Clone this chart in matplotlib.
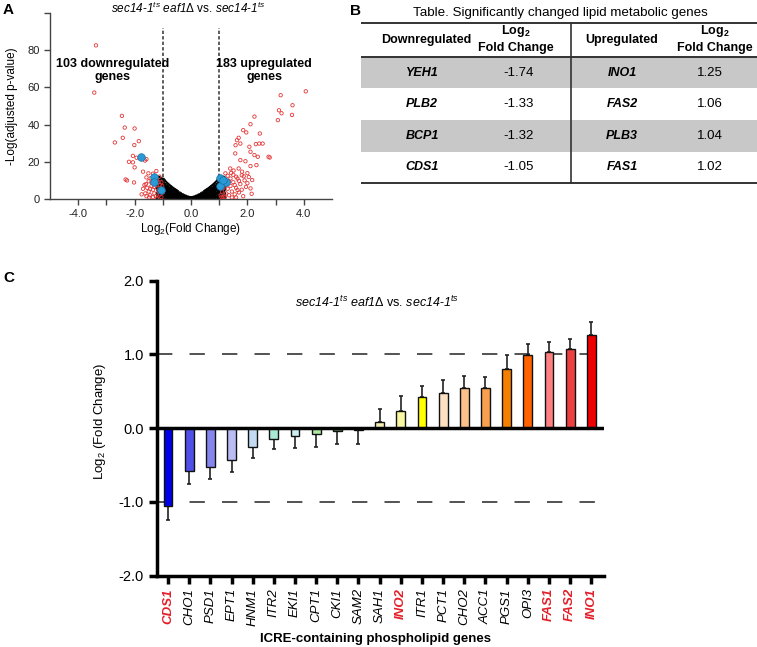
import matplotlib.pyplot as plt

plt.rcParams['font.family'] = ['Liberation Sans', 'DejaVu Sans']
plt.rcParams['mathtext.fontset'] = 'custom'
plt.rcParams['mathtext.rm'] = 'Liberation Sans'
plt.rcParams['mathtext.it'] = 'Liberation Sans:italic'
plt.rcParams['mathtext.sf'] = 'Liberation Sans:italic'
plt.rcParams['mathtext.bf'] = 'Liberation Sans:bold'

# ---- panel A: volcano plot ----
black_x = [-1.15, -1.1, -1.05, -1.0, -0.95, -0.9, -0.85, -0.8, -0.75, -0.7, -0.65, -0.6, -0.55, -0.5,
           -0.4, -0.3, -0.2, -0.1, 0.0, 0.1, 0.2, 0.3, 0.4,
           0.5, 0.55, 0.6, 0.65, 0.7, 0.75, 0.8, 0.85, 0.9, 0.95, 1.0, 1.05, 1.1, 1.15]
black_b0 = [0.6, 0.5, 0.5, 0.4, 0.4, 0.3, 0.3, 0.3, 0.2, 0.2, 0.2, 0.2, 0.1, 0.1,
            0.1, 0.05, 0, 0, 0, 0, 0, 0.05, 0.1,
            0.1, 0.1, 0.2, 0.2, 0.2, 0.2, 0.3, 0.3, 0.3, 0.4, 0.4, 0.5, 0.5, 0.6]
black_b1 = [2.8, 2.6, 2.5, 2.5, 2.2, 2.0, 1.9, 1.7, 1.5, 1.4, 1.2, 1.1, 1.0, 0.9,
            0.6, 0.4, 0.2, 0.05, 0, 0.05, 0.2, 0.4, 0.6,
            0.9, 1.0, 1.1, 1.2, 1.4, 1.5, 1.7, 1.9, 2.0, 2.2, 2.5, 2.5, 2.6, 2.8]
black_b2 = [5.5, 5.2, 5.0, 5.0, 4.5, 4.1, 3.7, 3.4, 3.1, 2.8, 2.5, 2.2, 2.0, 1.7,
            1.2, 0.8, 0.45, 0.15, 0, 0.15, 0.45, 0.8, 1.2,
            1.7, 2.0, 2.2, 2.5, 2.8, 3.1, 3.4, 3.7, 4.1, 4.5, 5.0, 5.0, 5.2, 5.5]
black_b3 = [8.0, 8.0, 7.5, 7.5, 6.8, 6.2, 5.6, 5.1, 4.6, 4.2, 3.8, 3.4, 3.0, 2.6,
            1.9, 1.2, 0.7, 0.2, 0, 0.2, 0.7, 1.2, 1.9,
            2.6, 3.0, 3.4, 3.8, 4.2, 4.6, 5.1, 5.6, 6.2, 6.8, 7.5, 7.5, 8.0, 8.0]
black_top = [11.0, 10.5, 10.0, 10.0, 9.0, 8.2, 7.5, 6.8, 6.2, 5.6, 5.0, 4.5, 4.0, 3.5,
             2.5, 1.6, 0.9, 0.3, 0, 0.3, 0.9, 1.6, 2.5,
             3.5, 4.0, 4.5, 5.0, 5.6, 6.2, 6.8, 7.5, 8.2, 9.0, 10.0, 10.0, 10.5, 11.0]

red_down_x = [-3.37, -3.43, -2.45, -2.35, -2.0, -2.42, -2.7, -1.85, -2.01, -2.06, -1.93, -2.2,
              -2.06, -2.0, -1.58, -1.63, -2.32, -2.27, -2.02, -1.7, -1.51, -1.23, -1.35, -1.58,
              -1.43, -1.6, -1.55, -1.5, -1.45, -1.4, -1.35, -1.3, -1.25, -1.2, -1.15, -1.1,
              -1.05, -1.5, -1.4, -1.3, -1.2, -1.1, -1.25, -1.15, -1.62, -1.7, -1.75, -1.48,
              -1.35, -1.2, -1.08, -1.12, -1.05, -1.58, -1.3, -1.45, -1.65, -1.0, -1.02]
red_down_y = [82.6, 57.2, 44.7, 38.4, 37.9, 32.9, 30.4, 31.1, 29.0, 23.2, 22.2, 20.0,
              19.7, 17.0, 21.4, 20.7, 10.5, 10.0, 8.9, 14.7, 13.8, 15.0, 13.6, 11.6,
              11.2, 8.0, 6.0, 4.0, 2.0, 7.0, 5.0, 3.0, 1.5, 6.0, 4.0, 2.5,
              1.0, 9.5, 9.0, 8.5, 10.0, 7.5, 11.0, 9.0, 3.0, 5.5, 2.5, 0.8,
              1.0, 0.5, 5.0, 12.0, 9.0, 1.5, 6.5, 5.5, 7.5, 3.5, 7.0]
red_up_x = [4.07, 3.18, 3.21, 3.08, 3.58, 3.6, 2.25, 2.11, 1.85, 1.96, 2.44, 1.69, 1.63,
            1.75, 1.58, 2.07, 2.3, 2.42, 2.54, 2.11, 2.25, 2.37, 2.75, 1.57, 1.75, 1.93,
            2.11, 2.32, 1.39, 1.51, 1.69, 1.81, 2.0, 1.87, 2.17, 2.11, 2.79, 3.12,
            1.05, 1.1, 1.15, 1.2, 1.25, 1.3, 1.35, 1.4, 1.45, 1.5, 1.55, 1.6, 1.65, 1.7,
            1.75, 1.8, 1.85, 1.9, 1.1, 1.2, 1.3, 1.4, 1.5, 1.6, 1.15, 1.35, 1.45, 1.25,
            1.55, 1.7, 1.95, 2.0, 1.8, 1.03, 1.08, 1.6, 1.42, 1.65, 1.22, 2.05, 2.15, 1.12]
red_up_y = [57.9, 55.8, 46.1, 42.4, 45.2, 50.4, 44.3, 40.2, 37.0, 35.8, 35.2, 32.9, 31.6,
            29.8, 28.9, 28.1, 29.5, 29.8, 29.8, 25.4, 23.6, 22.7, 22.7, 24.5, 20.9, 20.3,
            17.7, 18.2, 16.4, 15.3, 16.4, 14.7, 13.9, 12.2, 10.2, 5.7, 22.3, 47.7,
            2.0, 4.0, 6.0, 1.0, 3.0, 5.5, 2.0, 7.0, 4.0, 9.0, 2.5, 6.0, 11.0, 3.5,
            8.0, 5.0, 1.5, 10.0, 8.5, 10.5, 12.5, 11.0, 13.0, 12.0, 1.0, 9.5, 0.8, 7.5,
            7.5, 9.8, 6.5, 8.5, 12.8, 6.0, 1.0, 0.8, 14.0, 4.8, 13.8, 11.8, 2.8, 11.0]

lipid_x = [-1.76, -1.31, -1.31, -1.07, 1.25, 1.04, 1.04, 1.12]
lipid_y = [22.7, 12.0, 8.9, 4.8, 9.3, 11.1, 7.0, 10.0]

# ---- panel B: table ----
down_genes = ['YEH1', 'PLB2', 'BCP1', 'CDS1']
down_fc = ['-1.74', '-1.33', '-1.32', '-1.05']
up_genes = ['INO1', 'FAS2', 'PLB3', 'FAS1']
up_fc = ['1.25', '1.06', '1.04', '1.02']

# ---- panel C: bar chart ----
genes = ['CDS1', 'CHO1', 'PSD1', 'EPT1', 'HNM1', 'ITR2', 'EKI1', 'CPT1', 'CKI1', 'SAM2',
         'SAH1', 'INO2', 'ITR1', 'PCT1', 'CHO2', 'ACC1', 'PGS1', 'OPI3', 'FAS1', 'FAS2', 'INO1']
fold = [-1.05, -0.58, -0.52, -0.43, -0.26, -0.145, -0.10, -0.08, -0.04, -0.02,
        0.085, 0.24, 0.42, 0.48, 0.55, 0.55, 0.80, 0.99, 1.03, 1.07, 1.26]
err = [0.20, 0.17, 0.17, 0.17, 0.15, 0.14, 0.17, 0.17, 0.17, 0.20,
       0.18, 0.20, 0.15, 0.17, 0.16, 0.15, 0.19, 0.15, 0.14, 0.14, 0.18]
colors = ['#0000e6', '#5050e8', '#8585ee', '#bcbcf5', '#c4daf2', '#a8e8d6', '#cceef2',
          '#aee8a4', '#5f8a5f', '#888888', '#f4f0b4', '#f8f8a2', '#ffff00', '#fde0c2',
          '#fcc08a', '#f8a04e', '#f58000', '#ff6400', '#ff8080', '#ec4040', '#ee0000']
highlight = ['CDS1', 'INO2', 'FAS1', 'FAS2', 'INO1']

W, H = 757, 647
fig = plt.figure(figsize=(W / 100, H / 100), dpi=100)


def box(l, t, r, b):
    return [l / W, 1 - b / H, (r - l) / W, (b - t) / H]


def fxy(x, y):
    return x / W, 1 - y / H


strain = r"$\mathsf{sec14}$-$\mathsf{1^{ts}}$ $\mathsf{eaf1}$Δ vs. $\mathsf{sec14}$-$\mathsf{1^{ts}}$"

# ================= A =================
axA = fig.add_axes(box(50, 13, 332, 199))
for yy in (black_b0, black_b1, black_b2, black_b3, black_top):
    axA.scatter(black_x, yy, s=10, facecolors='none', edgecolors='black', linewidths=0.9, zorder=2)
axA.scatter(red_down_x + red_up_x, red_down_y + red_up_y, s=6, facecolors='none',
            edgecolors='#e53535', linewidths=0.6, zorder=3)
axA.scatter(lipid_x, lipid_y, s=30, color='#2a9ad6', edgecolors='#1a6fa0', linewidths=0.5, zorder=4)
for xv in (-1, 1):
    axA.plot([xv, xv], [0, 92], color='#333333', lw=1.1, ls=(0, (2.2, 1.4)), zorder=1)
axA.set_xlim(-5, 5)
axA.set_ylim(0, 100)
axA.set_xticks([-4, -2, 0, 2, 4])
axA.set_xticklabels(['-4.0', '-2.0', '0.0', '2.0', '4.0'])
axA.set_xticks([-3, -1, 1, 3], minor=True)
axA.set_yticks([0, 20, 40, 60, 80, 100])
axA.set_yticklabels(['0', '20', '40', '60', '80', ''])
for s in ('top', 'right'):
    axA.spines[s].set_visible(False)
for s in ('left', 'bottom'):
    axA.spines[s].set_color('#444444')
    axA.spines[s].set_linewidth(1.0)
axA.tick_params(which='both', length=4, width=1, color='#444444', labelsize=8, labelcolor='#222222')
axA.text(-2.79, 69, "103 downregulated\ngenes", ha='center', va='center', fontsize=9,
         fontweight='bold', linespacing=1.15)
axA.text(2.6, 69, "183 upregulated\ngenes", ha='center', va='center', fontsize=9,
         fontweight='bold', linespacing=1.15)
fig.text(*fxy(188, 13), strain, ha='center', va='baseline', fontsize=8.5)
fig.text(*fxy(191, 229), r"Log$_\mathregular{2}$(Fold Change)", ha='center', va='center', fontsize=8.5)
fig.text(*fxy(12, 106), "-Log(adjusted p-value)", ha='center', va='center', rotation=90, fontsize=8.5)
fig.text(*fxy(3, 14), "A", fontsize=11, fontweight='bold', va='baseline')

# ================= B =================
axT = fig.add_axes(box(361, 0, 757, 200))
axT.set_xlim(361, 757)
axT.set_ylim(200, 0)
axT.axis('off')
top, head, row_h = 22.7, 56.7, 31.65
for i in range(len(down_genes)):
    yc = head + row_h * (i + 0.5)
    if i % 2 == 0:
        axT.fill_between([361, 757], head + row_h * i, head + row_h * (i + 1), color='#c8c8c8', lw=0)
    axT.text(422, yc, down_genes[i], ha='center', va='center', fontsize=9, fontweight='bold', fontstyle='italic')
    axT.text(519, yc, down_fc[i], ha='center', va='center', fontsize=9.5)
    axT.text(622, yc, up_genes[i], ha='center', va='center', fontsize=9, fontweight='bold', fontstyle='italic')
    axT.text(710, yc, up_fc[i], ha='center', va='center', fontsize=9.5)
bottom = head + row_h * len(down_genes)
for yy in (top, head, bottom):
    axT.plot([361, 757], [yy, yy], color='#333333', lw=1.4)
axT.plot([570.7, 570.7], [top, bottom], color='#333333', lw=1.2)
axT.text(560, 13, "Table. Significantly changed lipid metabolic genes", ha='center', va='center', fontsize=9.6)
for xc, lab in ((426, 'Downregulated'), (622, 'Upregulated')):
    axT.text(xc, 40, lab, ha='center', va='center', fontsize=9, fontweight='bold')
for xc in (516, 715):
    axT.text(xc, 31, r"Log$\mathbf{_2}$", ha='center', va='center', fontsize=9, fontweight='bold')
    axT.text(xc, 48, "Fold Change", ha='center', va='center', fontsize=9, fontweight='bold')
fig.text(*fxy(350, 15), "B", fontsize=11, fontweight='bold', va='baseline')

# ================= C =================
axC = fig.add_axes(box(157, 280.7, 604, 575.7))
xs = list(range(len(genes)))
lower = [e if v < 0 else 0 for v, e in zip(fold, err)]
upper = [e if v >= 0 else 0 for v, e in zip(fold, err)]
axC.errorbar(xs, fold, yerr=[lower, upper], fmt='none', ecolor='#222222', elinewidth=1.2,
             capsize=1.6, capthick=1.2, zorder=2)
axC.bar(xs, fold, width=0.42, color=colors, edgecolor='#111111', linewidth=1.0, zorder=3)
axC.axhline(0, color='black', lw=2.5, zorder=4)
for yv in (1, -1):
    axC.axhline(yv, color='#444444', lw=1.3, ls=(0, (8.5, 9.5)), zorder=1)
axC.set_xlim(-0.52, 20.6)
axC.set_ylim(-2, 2)
axC.set_yticks([2, 1, 0, -1, -2])
axC.set_yticklabels(['2.0', '1.0', '0.0', '-1.0', '-2.0'])
axC.set_xticks(xs)
axC.set_xticklabels(genes, rotation=90, fontstyle='italic', fontsize=9.5)
for lab in axC.get_xticklabels():
    if lab.get_text() in highlight:
        lab.set_color('#e3202a')
        lab.set_fontweight('bold')
for s in ('top', 'right'):
    axC.spines[s].set_visible(False)
for s in ('left', 'bottom'):
    axC.spines[s].set_linewidth(2.5)
axC.tick_params(axis='both', length=6, width=2.5, labelsize=10.5)
axC.tick_params(axis='x', pad=3, labelsize=9.5)
fig.text(*fxy(377, 307), strain, ha='center', va='baseline', fontsize=9)
fig.text(*fxy(100, 421), r"Log$_\mathregular{2}$ (Fold Change)", ha='center', va='center',
         rotation=90, fontsize=9.5)
fig.text(*fxy(375, 639), "ICRE-containing phospholipid genes", ha='center', va='center',
         fontsize=9.5, fontweight='bold')
fig.text(*fxy(3, 282), "C", fontsize=11, fontweight='bold', va='baseline')

fig.savefig('out.png', dpi=100)
